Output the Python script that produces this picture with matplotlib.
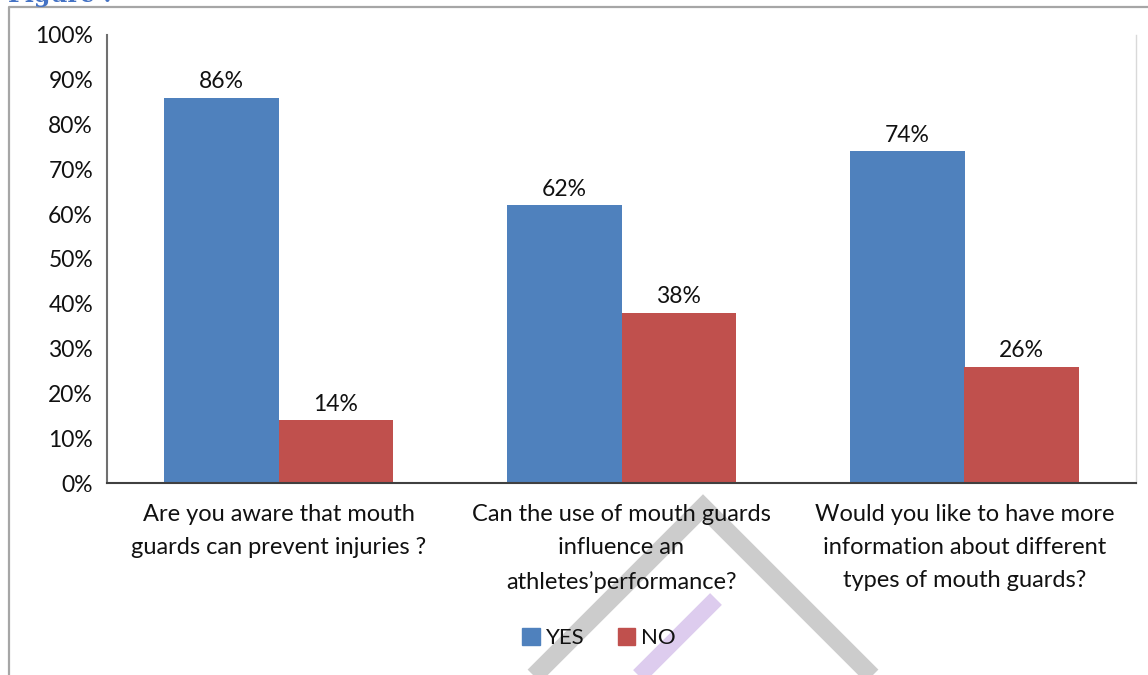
import matplotlib
matplotlib.use("Agg")
import matplotlib.pyplot as plt
import numpy as np
from matplotlib.lines import Line2D
from matplotlib.patches import Patch

plt.rcParams['font.family'] = ['Lato', 'DejaVu Sans']

questions = [
    'Are you aware that mouth\nguards can prevent injuries ?',
    'Can the use of mouth guards\ninfluence an\nathletes\u2019performance?',
    'Would you like to have more\ninformation about different\ntypes of mouth guards?',
]
yes_pct = [86, 62, 74]
no_pct = [14, 38, 26]
series_names = ['YES', 'NO']
yticks = list(range(0, 101, 10))

blue = '#4F81BD'
red = '#C0504D'
ink = '#111111'

W, H = 1148, 675
fig = plt.figure(figsize=(W / 100, H / 100), dpi=100)


def px(x, y):
    # pixel position (from top-left) -> figure fraction
    return x / W, 1 - y / H


ax = fig.add_axes([107 / W, 1 - 483 / H, (1136 - 107) / W, (483 - 35) / H])

x = np.arange(len(questions))
bw = 1 / 3
b1 = ax.bar(x - bw / 2, yes_pct, bw, color=blue, label=series_names[0], zorder=2)
b2 = ax.bar(x + bw / 2, no_pct, bw, color=red, label=series_names[1], zorder=2)
for bars, vals in ((b1, yes_pct), (b2, no_pct)):
    ax.bar_label(bars, labels=[f'{v}%' for v in vals], padding=4,
                 fontsize=16.5, color=ink)

ax.set_xlim(-0.5, len(questions) - 0.5)
ax.set_ylim(0, 100)
ax.set_yticks(yticks)
ax.set_yticklabels([f'{t}%' for t in yticks], fontsize=16.5, color=ink)
ax.set_xticks(x)
ax.set_xticklabels(questions, fontsize=17, color=ink, linespacing=1.72)
ax.tick_params(axis='y', length=0, pad=10)
ax.tick_params(axis='x', length=0, pad=15)

ax.spines['top'].set_visible(False)
ax.spines['right'].set_color('#D9D9D9')
ax.spines['right'].set_linewidth(1)
ax.spines['left'].set_color('#707070')
ax.spines['left'].set_linewidth(1.5)
ax.spines['bottom'].set_color('#404040')
ax.spines['bottom'].set_linewidth(1.5)

handles = [Patch(color=blue), Patch(color=red)]
fig.legend(handles, series_names, loc='center', bbox_to_anchor=px(599, 638),
           ncol=2, frameon=False, fontsize=16, handlelength=0.8, handleheight=0.8,
           handletextpad=0.25, columnspacing=1.5)
plt.setp(fig.legends[0].get_texts(), color=ink)

# frame around the figure box (left and top edges)
fx, fy = zip(px(8.5, H + 5), px(8.5, 6.5), px(W + 5, 6.5))
fig.add_artist(Line2D(fx, fy, color='#A6A6A6', lw=1.6, transform=fig.transFigure))

# caption above the box, mostly cut off by the top edge
fig.text(*px(8, 2), 'Figure :', color='#4472C4', fontsize=17, fontweight='bold',
         family='DejaVu Serif', ha='left', va='baseline')

# watermark strokes
gx, gy = zip(px(703 - 200, 507 + 200), px(703, 507), px(703 + 200, 507 + 200))
fig.add_artist(Line2D(gx, gy, color='#CCCCCC', lw=13, solid_joinstyle='miter',
                      solid_capstyle='butt', transform=fig.transFigure, zorder=-1))
for sx, sy in ((716, 599), (795, 677)):
    lx, ly = zip(px(sx, sy), px(sx - 120, sy + 120))
    fig.add_artist(Line2D(lx, ly, color='#DDCCEE', lw=12, solid_capstyle='butt',
                          transform=fig.transFigure, zorder=-1))

fig.savefig('out.png', dpi=100)
